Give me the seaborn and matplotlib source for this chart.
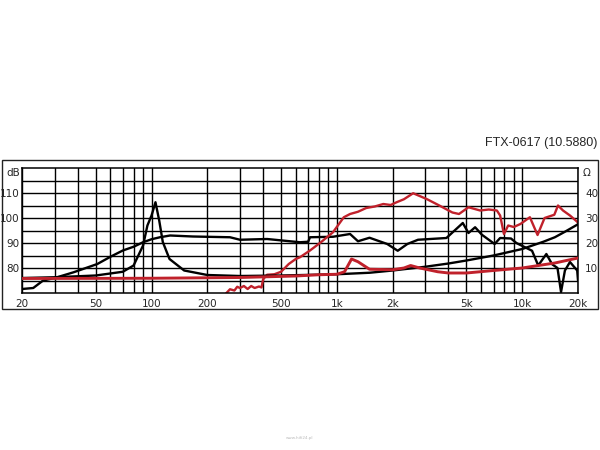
import pandas as pd
import matplotlib
matplotlib.use("Agg")
import matplotlib.pyplot as plt
import seaborn as sns
from matplotlib.patches import Rectangle
from matplotlib.ticker import FixedLocator, FixedFormatter, NullFormatter

sns.set_style("white")
plt.rcParams['font.family'] = ['DejaVu Sans']

RED = '#c0212b'

# black: frequency response (dB)
resp_black_f = [20, 23, 26, 30, 38, 51, 60, 70, 80, 90, 100, 111, 126, 167, 265, 300, 420, 632, 700,
                716, 953, 1178, 1300, 1500, 1870, 2130, 2400, 2740, 3900, 4780, 5130, 5570, 6060, 7100,
                7600, 8700, 9300, 11300, 12200, 13500, 14500, 15500, 16200, 17000, 18100, 19800, 20000]
resp_black_db = [71.6, 72, 75, 76, 78.3, 81.6, 84.5, 87, 88.5, 90.3, 91.5, 92.3, 93, 92.6, 92.3, 91.3, 91.6, 90.3, 90.5,
                 92.3, 92.5, 93.6, 90.7, 92.1, 89.6, 86.9, 89.6, 91.3, 92, 98, 94, 96.3, 93.3, 89.6,
                 92, 91.8, 90, 86.9, 81, 85.6, 81.5, 80, 70.4, 79, 82.4, 79, 75]

# red: frequency response (dB)
resp_red_f = [250, 265, 280, 290, 300, 315, 330, 345, 360, 380, 392, 400, 420, 460, 500, 550, 600, 632, 716,
              820, 953, 1090, 1178, 1300, 1440, 1600, 1780, 1950, 2100, 2300, 2580, 3050, 3570, 4200, 4560,
              5130, 5930, 6600, 7300, 7600, 7970, 8400, 9000, 9780, 11000, 12100, 13200, 14900, 15600,
              16600, 18100, 19800, 20000]
resp_red_db = [69.5, 71.5, 71.0, 72.5, 72.0, 72.8, 71.6, 72.8, 72.0, 72.6, 72.2, 75.5, 77.3, 77.5, 78.5, 81.6, 83.6, 84.3, 87,
               90.3, 94.3, 100.3, 101.6, 102.5, 104, 104.6, 105.6, 105.2, 106.3, 107.5, 109.9, 107.6, 105, 102.2, 101.6,
               104.3, 103, 103.4, 103, 101, 93.6, 97, 96.4, 97.6, 100.3, 93.2, 100, 101.3, 105,
               103, 101, 98.5, 98]

# black: impedance (ohm)
imp_black_f = [20, 30, 50, 70, 80, 90, 95, 100, 105, 110, 115, 125, 150, 200, 300, 500, 1000, 1500, 2000,
               3000, 4000, 5000, 7000, 10000, 13000, 15000, 17000, 20000]
imp_black_ohm = [6, 6.3, 7, 8.5, 11, 19, 27, 31, 36.3, 29, 20.4, 13.6, 9, 7.2, 6.8, 7, 7.5, 8.1, 9,
                 10.5, 11.8, 13, 15, 17.6, 20.5, 22.3, 24.5, 27.5]

# red: impedance (ohm)
imp_red_f = [20, 100, 300, 600, 800, 1000, 1100, 1200, 1300, 1500, 2000, 2300, 2500, 2800, 3500, 4000,
             5000, 7000, 10000, 15000, 20000]
imp_red_ohm = [5.8, 5.9, 6.2, 6.8, 7.3, 7.5, 8.5, 13.6, 12.5, 9.5, 9.3, 10, 11, 10, 8.5, 8,
               8, 9, 10, 12, 14]

x_labels = ['20', '50', '100', '200', '500', '1k', '2k', '5k', '10k', '20k']
x_ticks = [20, 50, 100, 200, 500, 1000, 2000, 5000, 10000, 20000]

fig = plt.figure(figsize=(6, 4.5), dpi=100)
fig.patch.set_facecolor('white')
ax = fig.add_axes([22 / 600, 1 - 293 / 450, 556 / 600, 125 / 450])
ax.set_xscale('log')

# outer frame
fig.patches.append(Rectangle((2 / 600, 1 - 309 / 450), 596 / 600, 149 / 450, transform=fig.transFigure,
                             fill=False, edgecolor='#222222', lw=1.0))

sns.lineplot(x=resp_black_f, y=resp_black_db, ax=ax, color='black', lw=1.7, estimator=None)
sns.lineplot(x=resp_red_f, y=resp_red_db, ax=ax, color=RED, lw=1.7, estimator=None)

ax2 = ax.twinx()
sns.lineplot(x=imp_black_f, y=imp_black_ohm, ax=ax2, color='black', lw=1.7, estimator=None)
sns.lineplot(x=imp_red_f, y=imp_red_ohm, ax=ax2, color=RED, lw=2.1, estimator=None)

ax.set_xlim(20, 20000)
ax.set_ylim(70, 120)
ax2.set_ylim(0, 50)

grid_x = [m * 10 ** e for e in range(1, 4) for m in range(1, 10)] + [10000, 20000]
grid_x = [g for g in grid_x if 20 <= g <= 20000]
ax.xaxis.set_major_locator(FixedLocator(x_ticks))
ax.xaxis.set_major_formatter(FixedFormatter(x_labels))
ax.xaxis.set_minor_locator(FixedLocator(grid_x))
ax.xaxis.set_minor_formatter(NullFormatter())
ax.set_yticks([80, 90, 100, 110])
ax.set_yticks([75, 85, 95, 105, 115], minor=True)
ax.tick_params(which='both', length=0)
ax.tick_params(axis='x', labelsize=7.5, pad=4)
ax.tick_params(axis='y', labelsize=7.5, pad=2)
ax.grid(True, which='both', color='black', lw=1.0)
ax.set_axisbelow(True)
for s in ax.spines.values():
    s.set_color('black')
    s.set_linewidth(1.1)
ax.text(-0.004, 118.2, 'dB', transform=ax.get_yaxis_transform(), ha='right', va='center', fontsize=7.5)

ax2.set_yticks([10, 20, 30, 40])
ax2.tick_params(axis='y', length=0, labelsize=7.5, pad=5)
ax2.text(1.008, 47.8, 'Ω', transform=ax2.get_yaxis_transform(), ha='left', va='center', fontsize=7.5)
ax2.set_ylabel('')
for s in ax2.spines.values():
    s.set_visible(False)

fig.text(597 / 600, 1 - 143 / 450, 'FTX-0617 (10.5880)', ha='right', va='center',
         fontsize=9, family=['Liberation Sans', 'DejaVu Sans'])
fig.text(0.5, 1 - 438 / 450, 'www.hifi24.pl', ha='center', va='center', fontsize=3, color='#bbbbbb')

fig.savefig('out.png', dpi=100, facecolor='white')
